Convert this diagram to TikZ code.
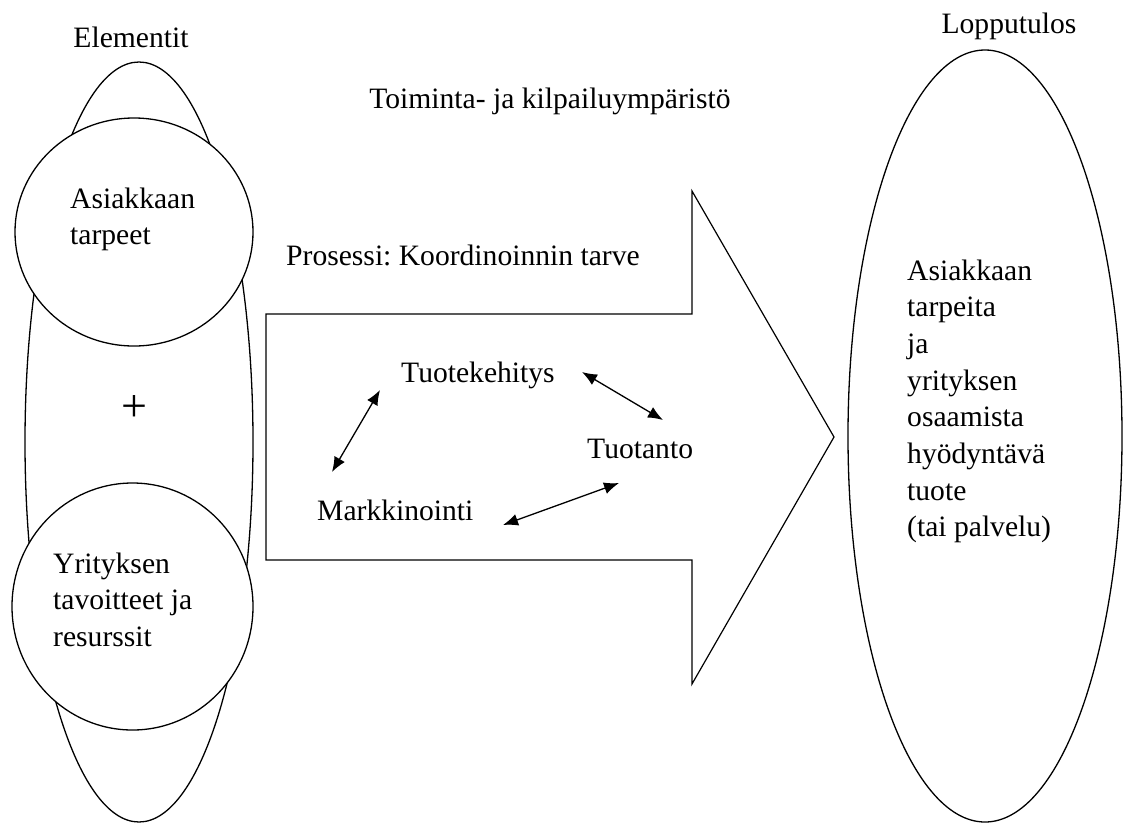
\documentclass[tikz,border=0pt]{standalone}
\usepackage{fontspec}
\setmainfont{Liberation Serif}
\usetikzlibrary{arrows.meta,shapes.geometric}
\frenchspacing
\begin{document}
\begin{tikzpicture}[x=1pt,y=-1pt,
  outline/.style={draw=black,line width=1.3pt},
  oval/.style={outline,ellipse,inner sep=0pt},
  lbl/.style={inner sep=0pt,anchor=base west,align=left,font=\fontsize{29.6}{36.7}\selectfont},
  ctr/.style={inner sep=0pt,anchor=base,font=\fontsize{29.6}{36.7}\selectfont},
  link/.style={line width=1.3pt,{Latex[length=15pt,width=12pt]}-{Latex[length=15pt,width=12pt]}}]
\useasboundingbox (0,0) rectangle (1125,823);
% left elements
\node[oval,minimum width=228pt,minimum height=760pt] (elem) at (139,442) {};
\node[oval,fill=white,minimum width=238pt,minimum height=228pt] (need) at (134,232) {};
\node[oval,fill=white,minimum width=241pt,minimum height=247pt] (goal) at (132.5,606.5) {};
\node[ctr] (elemt) at (131,47) {Elementit};
% multi-line labels: anchor at the baseline of the last line
\node[lbl] (needt) at (70,244.7) {Asiakkaan\\tarpeet};
\node[lbl] (goalt) at (53,646.4) {Yrityksen\\tavoitteet ja\\resurssit};
\node[inner sep=0pt,font=\fontsize{46}{46}\selectfont] (plus) at (134,408) {+};
% environment
\node[ctr] (env) at (550,108) {Toiminta- ja kilpailuympäristö};
% process arrow
\coordinate (a1) at (266,314);
\coordinate (a2) at (692,314);
\coordinate (a3) at (692,191);
\coordinate (tip) at (834,437);
\coordinate (a5) at (692,684);
\coordinate (a6) at (692,560);
\coordinate (a7) at (266,560);
\draw[line width=1.2pt,line join=miter] (a1) -- (a2) -- (a3) -- (tip) -- (a5) -- (a6) -- (a7) -- cycle;
\node[lbl] (proc) at (286,265) {Prosessi: Koordinoinnin tarve};
\node[lbl] (tk) at (401,382) {Tuotekehitys};
\node[lbl] (tt) at (587,458) {Tuotanto};
\node[lbl] (mk) at (317,520) {Markkinointi};
\coordinate (tk1) at (380,390);
\coordinate (mk1) at (332,472);
\coordinate (tk2) at (582,372);
\coordinate (tt1) at (663,420);
\coordinate (tt2) at (619,483);
\coordinate (mk2) at (503,525);
\draw[link] (tk1) -- (mk1);
\draw[link] (tk2) -- (tt1);
\draw[link] (tt2) -- (mk2);
% result
\node[ctr] (rest) at (1009,33) {Lopputulos};
\node[oval,minimum width=274pt,minimum height=772pt] (res) at (985,436) {};
\node[lbl] (rest2) at (907,536.9) {Asiakkaan\\tarpeita\\ja\\yrityksen\\osaamista\\hyödyntävä\\tuote\\(tai palvelu)};
\end{tikzpicture}
\end{document}
